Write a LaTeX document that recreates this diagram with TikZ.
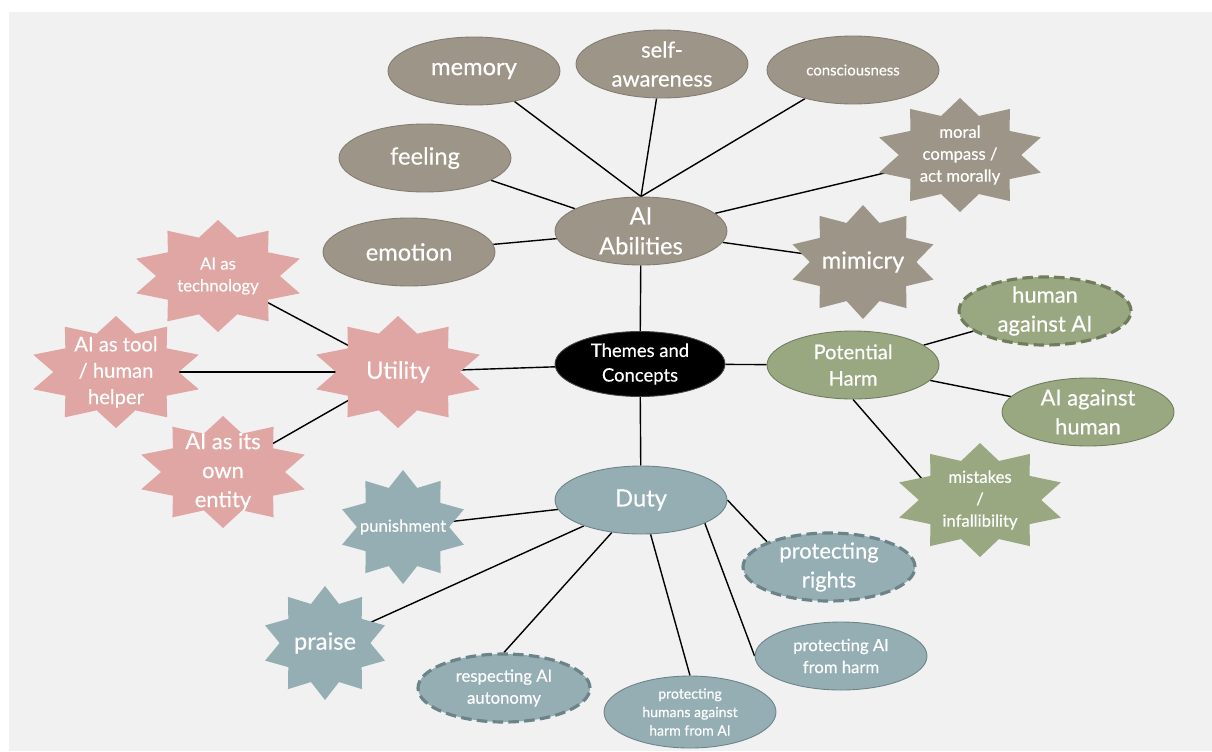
\documentclass[tikz,border=0pt]{standalone}
\usepackage{fontspec}
\setmainfont{Lato}[FakeBold=0.35]
\usepackage{tikz}
\usetikzlibrary{shapes.geometric, positioning}
\usepackage{xcolor}

\definecolor{bggray}{HTML}{F1F1F1}
\definecolor{tanfill}{HTML}{9E9589}
\definecolor{tanline}{HTML}{857C71}
\definecolor{pinkfill}{HTML}{E0A6A3}
\definecolor{greenfill}{HTML}{9AA882}
\definecolor{greenline}{HTML}{6F7D5D}
\definecolor{bluefill}{HTML}{95AEB3}
\definecolor{blueline}{HTML}{6B8389}

\pgfdeclarelayer{back}
\pgfdeclarelayer{links}
\pgfsetlayers{back,links,main}

% 星形底色
\newcommand{\burst}[4]{%
  \fill[#4, shift={(#1)}] plot[samples at={0,...,19}, variable=\k]
    ({#2*(1-0.28*mod(\k,2))*cos(90+18*\k)}, {#3*(1-0.28*mod(\k,2))*sin(90+18*\k)}) -- cycle;}

\tikzset{
  bubble/.style={ellipse, inner sep=-3pt, minimum width=3.44cm, minimum height=1.36cm,
    text=white, align=center, line width=0.5pt},
  tanblob/.style={bubble, fill=tanfill, draw=tanline},
  greenblob/.style={bubble, fill=greenfill, draw=greenline},
  blueblob/.style={bubble, fill=bluefill, draw=blueline},
  rim/.style={line width=1.8pt, dash pattern=on 6pt off 3pt},
  startext/.style={text=white, align=center, inner sep=1pt},
  link/.style={line width=0.8pt, black},
  huge/.style={font=\fontsize{13.5}{17}\selectfont},
  big/.style={font=\fontsize{12.5}{16.5}\selectfont},
  mid/.style={font=\fontsize{11.5}{15}\selectfont},
  small/.style={font=\fontsize{9.5}{12.5}\selectfont},
  tiny/.style={font=\fontsize{8}{10.5}\selectfont},
}

\begin{document}
\begin{tikzpicture}[x=0.02cm, y=-0.02cm]
    \useasboundingbox (0,0) rectangle (1212,751);
    \begin{pgfonlayer}{back}
        \fill[bggray] (9,12) rectangle (1212,751);
    \end{pgfonlayer}

    % 中心
    \node[ellipse, fill=black, draw=black!80!cyan, line width=0.5pt, minimum width=3.4cm,
          minimum height=1.3cm, inner sep=-3pt, text=white, align=center,
          font=\fontsize{10.5}{14}\selectfont] (theme) at (640,364) {Themes and\\Concepts};

    % AI Abilities
    \node[tanblob, huge] (abil) at (641,231) {AI\\Abilities};
    \node[tanblob, huge] (mem) at (474,71) {memory};
    \node[tanblob, big] (self) at (662,64) {self-\\awareness};
    \node[tanblob, font=\fontsize{8.5}{11}\selectfont] (cons) at (853,70) {consciousness};
    \node[tanblob, huge] (feel) at (425,158) {feeling};
    \node[tanblob, huge] (emo) at (409,252) {emotion};
    \burst{960,155}{85}{57}{tanfill}
    \node[startext, small] (moral) at (960,155) {moral\\compass /\\act morally};
    \burst{863,262}{74}{57}{tanfill}
    \node[startext, huge] (mimic) at (863,262) {mimicry};

    % Utility
    \burst{398,372}{86}{56}{pinkfill}
    \node[startext, huge] (util) at (398,372) {Utility};
    \burst{218,276}{86}{56}{pinkfill}
    \node[startext, small] (tech) at (218,276) {AI as\\technology};
    \burst{116,372}{87}{56}{pinkfill}
    \node[startext, mid] (tool) at (116,372) {AI as tool\\/ human\\helper};
    \burst{223,472}{86}{56}{pinkfill}
    \node[startext, big] (entity) at (223,472) {AI as its\\own\\entity};

    % Potential Harm
    \node[greenblob, mid] (harm) at (853,365) {Potential\\Harm};
    \node[greenblob, big, rim] (humai) at (1045,311) {human\\against AI};
    \node[greenblob, big] (aihum) at (1088,412) {AI against\\human};
    \burst{980,500}{85}{57}{greenfill}
    \node[startext, small] (mist) at (980,500) {mistakes\\/\\infallibility};

    % Duty
    \node[blueblob, huge] (duty) at (641,500) {Duty};
    \burst{403,527}{64}{57}{bluefill}
    \node[startext, small] (punish) at (403,527) {punishment};
    \burst{325,643}{63}{57}{bluefill}
    \node[startext, huge] (praise) at (325,643) {praise};
    \node[blueblob, small, rim] (resp) at (504,688) {respecting AI\\autonomy};
    \node[blueblob, tiny, minimum height=1.44cm] (humprot) at (690,712) {protecting\\humans against\\harm from AI};
    \node[blueblob, small] (protai) at (841,656) {protecting AI\\from harm};
    \node[blueblob, big, rim] (rights) at (829,567) {protecting\\rights};

    % 连线
    \begin{pgfonlayer}{links}
        \draw[link] (theme) -- (abil);
        \draw[link] (theme) -- (util);
        \draw[link] (theme) -- (harm);
        \draw[link] (theme) -- (duty);
        \draw[link] (mem) -- (abil.north);
        \draw[link] (self) -- (abil.north);
        \draw[link] (cons) -- (abil.north);
        \draw[link] (feel) -- (abil);
        \draw[link] (emo) -- (abil);
        \draw[link] (moral) -- (abil);
        \draw[link] (mimic) -- (abil);
        \draw[link] (tech) -- (util);
        \draw[link] (tool) -- (util);
        \draw[link] (entity) -- (util);
        \draw[link] (harm) -- (humai);
        \draw[link] (harm) -- (aihum);
        \draw[link] (harm.south) -- (mist.west);
        \draw[link] (punish) -- (duty);
        \draw[link] (praise) -- (duty);
        \draw[link] (duty) -- (resp.north);
        \draw[link] (duty) -- (humprot.north);
        \draw[link] (duty.-20) -- (protai.west);
        \draw[link] (duty.east) -- (rights.north west);
    \end{pgfonlayer}
\end{tikzpicture}
\end{document}
